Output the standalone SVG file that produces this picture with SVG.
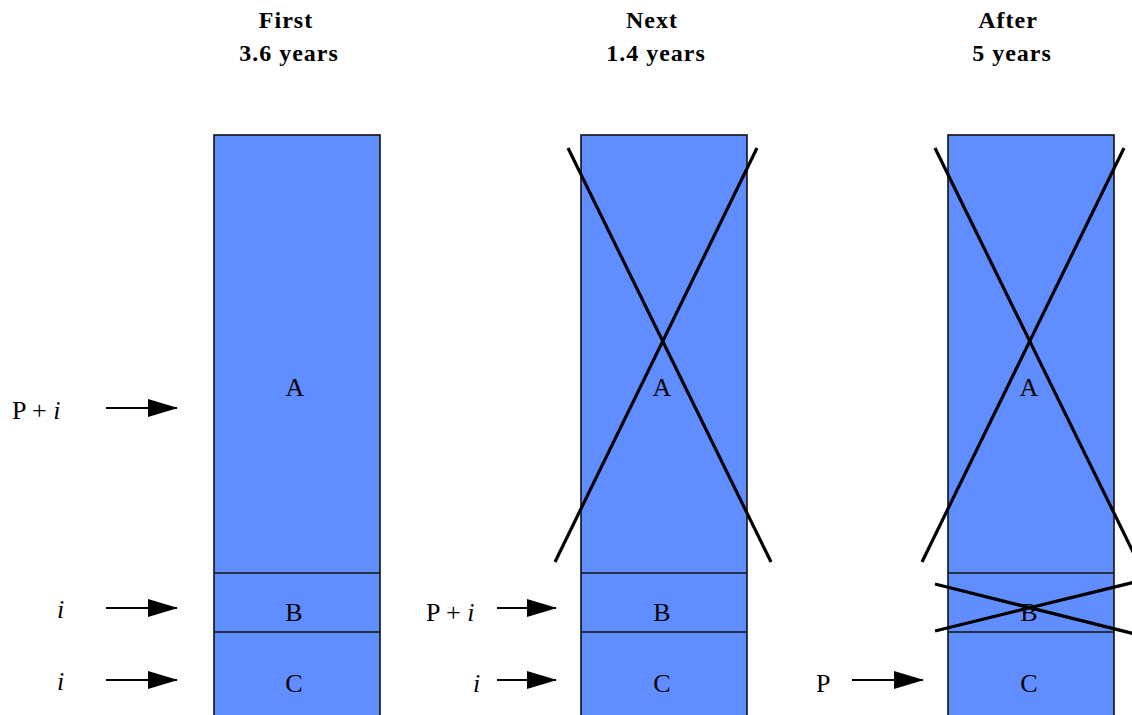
<svg xmlns="http://www.w3.org/2000/svg" width="1132" height="715" viewBox="0 0 1132 715">
<defs>
<style>
.col{fill:#608DFF;stroke:#111;stroke-width:1.6}
.div{stroke:#111;stroke-width:1.6}
.x{stroke:#000;stroke-width:3.2;fill:none}
.t{font-family:"Liberation Serif",serif;font-size:26px;fill:#000}
.h{font-family:"Liberation Serif",serif;font-size:24px;font-weight:bold;letter-spacing:1px;fill:#000;text-anchor:middle}
.c{text-anchor:middle}
.e{text-anchor:end}
.arr{stroke:#000;stroke-width:2;fill:none}
</style>
<marker id="ah" markerWidth="30" markerHeight="18" refX="29" refY="9" orient="auto" markerUnits="userSpaceOnUse">
<polygon points="0,0 30,9 0,18" fill="#000"/>
</marker>
</defs>
<g id="headers">
<text class="h" x="286" y="28">First</text>
<text class="h" x="289" y="61">3.6 years</text>
<text class="h" x="652" y="28">Next</text>
<text class="h" x="656" y="61">1.4 years</text>
<text class="h" x="1008" y="28">After</text>
<text class="h" x="1012" y="61">5 years</text>
</g>
<g id="column1">
<rect class="col" x="214" y="135" width="166" height="590"/>
<line class="div" x1="214" y1="573" x2="380" y2="573"/>
<line class="div" x1="214" y1="632" x2="380" y2="632"/>
<text class="t c" x="295" y="396">A</text>
<text class="t c" x="294" y="621">B</text>
<text class="t c" x="294" y="692">C</text>
</g>
<g id="column2">
<rect class="col" x="581" y="135" width="166" height="590"/>
<line class="div" x1="581" y1="573" x2="747" y2="573"/>
<line class="div" x1="581" y1="632" x2="747" y2="632"/>
<text class="t c" x="662" y="396">A</text>
<text class="t c" x="662" y="621">B</text>
<text class="t c" x="662" y="692">C</text>
<line class="x" x1="568" y1="148" x2="771" y2="562"/>
<line class="x" x1="757" y1="148" x2="555" y2="562"/>
</g>
<g id="column3">
<rect class="col" x="948" y="135" width="166" height="590"/>
<line class="div" x1="948" y1="573" x2="1114" y2="573"/>
<line class="div" x1="948" y1="632" x2="1114" y2="632"/>
<text class="t c" x="1029" y="396">A</text>
<text class="t c" x="1029" y="621">B</text>
<text class="t c" x="1029" y="692">C</text>
<line class="x" x1="935" y1="148" x2="1138" y2="562"/>
<line class="x" x1="1124" y1="148" x2="922" y2="562"/>
<line class="x" x1="935" y1="584" x2="1135" y2="634"/>
<line class="x" x1="935" y1="631" x2="1135" y2="582"/>
</g>
<g id="labels">
<text class="t" x="12" y="419">P + <tspan font-style="italic">i</tspan></text>
<text class="t" x="57" y="618" font-style="italic">i</text>
<text class="t" x="57" y="690" font-style="italic">i</text>
<text class="t" x="426" y="621">P + <tspan font-style="italic">i</tspan></text>
<text class="t" x="473" y="692" font-style="italic">i</text>
<text class="t" x="816" y="692">P</text>
</g>
<g id="connectors">
<line class="arr" x1="106" y1="408" x2="177" y2="408" marker-end="url(#ah)"/>
<line class="arr" x1="106" y1="608" x2="177" y2="608" marker-end="url(#ah)"/>
<line class="arr" x1="106" y1="680" x2="177" y2="680" marker-end="url(#ah)"/>
<line class="arr" x1="497" y1="608" x2="556" y2="608" marker-end="url(#ah)"/>
<line class="arr" x1="497" y1="680" x2="556" y2="680" marker-end="url(#ah)"/>
<line class="arr" x1="852" y1="680" x2="923" y2="680" marker-end="url(#ah)"/>
</g>
</svg>
